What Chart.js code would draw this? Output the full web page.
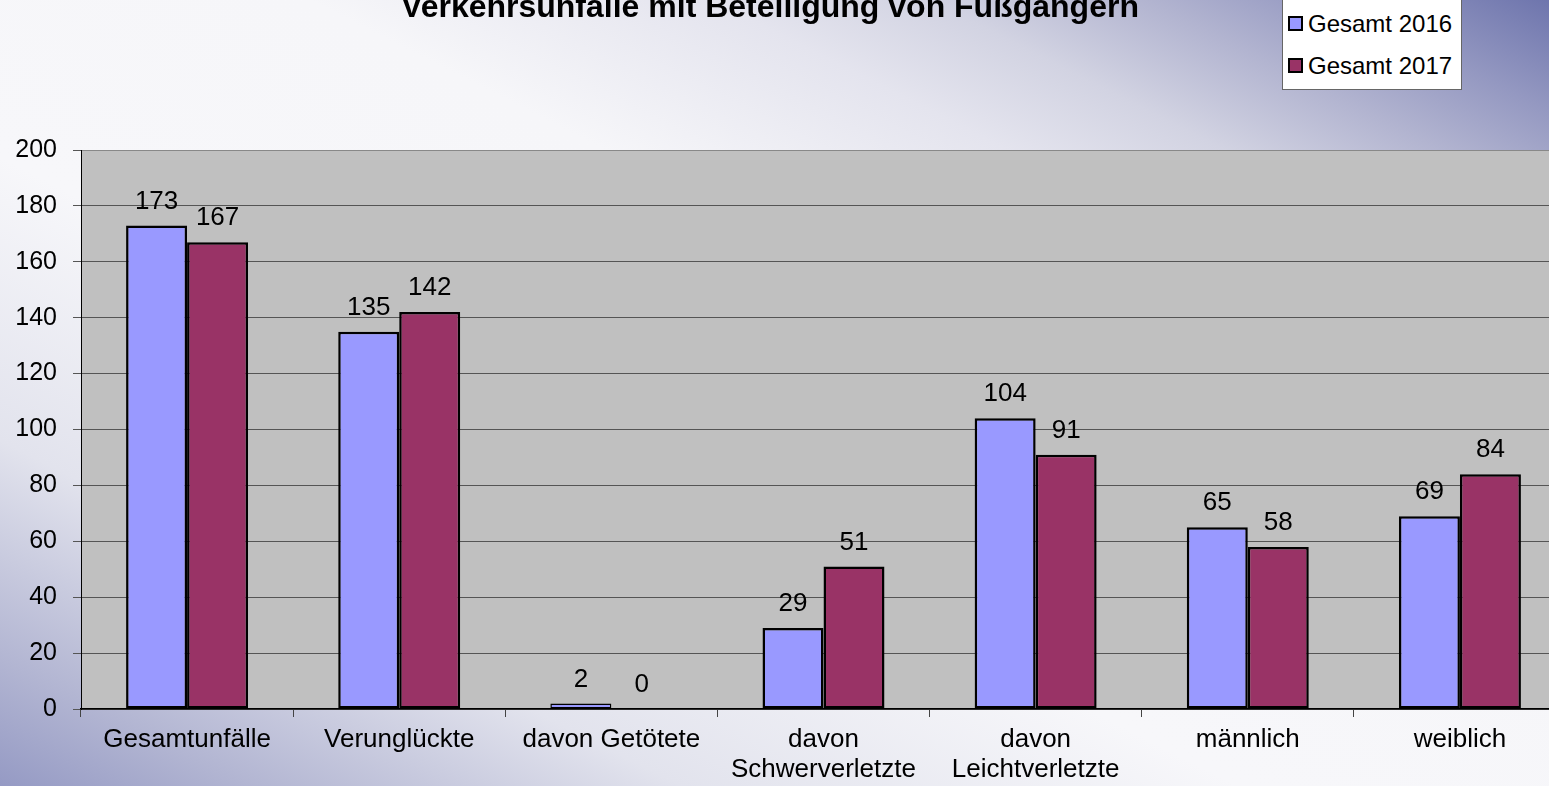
<!DOCTYPE html>
<html><head><meta charset="utf-8">
<script src="https://cdn.jsdelivr.net/npm/chart.js@4.4.0/dist/chart.umd.min.js"></script>
<style>
html,body{margin:0;padding:0;width:1549px;height:786px;overflow:hidden;}
body{position:relative;font-family:'Liberation Sans',Arial,sans-serif;
background:linear-gradient(to top right,#959ac4 0%,#b2b5d2 8%,#e2e3ed 22%,#f7f7fa 40%,#f6f6f9 60%,#e4e4ee 73%,#d2d3e2 80%,#b2b4d0 87%,#9498c1 93%,#6e75ad 100%);}
#wrap{position:absolute;left:0;top:0;width:1566px;height:786px;}
#title{position:absolute;left:0;width:1540px;top:-10px;text-align:center;font-weight:bold;font-size:32px;line-height:32px;color:#000;white-space:nowrap;}
#legendBox{position:absolute;left:1282px;top:-10px;width:180px;height:100px;box-sizing:border-box;background:#fff;border:1px solid #666;}
.sw{position:absolute;width:15px;height:15px;box-sizing:border-box;border:2px solid #000;}
.lt{position:absolute;font-size:24px;line-height:24px;color:#000;white-space:nowrap;}
</style></head>
<body>
<div id="wrap"><canvas id="c" width="1566" height="786"></canvas></div>
<div id="title">Verkehrsunfälle mit Beteiligung von Fußgängern</div>
<div id="legendBox"></div>
<div id="legendItems"></div>
<script>
const chartTitle = 'Verkehrsunfälle mit Beteiligung von Fußgängern';
const categories = ['Gesamtunfälle', 'Verunglückte', 'davon Getötete', ['davon', 'Schwerverletzte'], ['davon', 'Leichtverletzte'], 'männlich', 'weiblich'];
const seriesNames = ['Gesamt 2016', 'Gesamt 2017'];
const values2016 = [173, 135, 2, 29, 104, 65, 69];
const values2017 = [167, 142, 0, 51, 91, 58, 84];
const seriesColors = ['#9999FF', '#993366'];
const yMin = 0, yMax = 200, yStep = 20;

const FONT = "'Liberation Sans', Arial, sans-serif";

document.getElementById('title').textContent = chartTitle;
const legendItems = document.getElementById('legendItems');
const legendTops = [11.5, 54];
seriesNames.forEach((name, i) => {
  const sw = document.createElement('div');
  sw.className = 'sw';
  sw.style.left = '1288px';
  sw.style.top = (legendTops[i] + 4) + 'px';
  sw.style.background = seriesColors[i];
  legendItems.appendChild(sw);
  const t = document.createElement('div');
  t.className = 'lt';
  t.style.left = '1308px';
  t.style.top = legendTops[i] + 'px';
  t.textContent = name;
  legendItems.appendChild(t);
});

const plotBg = {
  id: 'plotBg',
  beforeDraw(chart) {
    const {ctx, chartArea: a} = chart;
    ctx.save();
    ctx.fillStyle = '#C0C0C0';
    ctx.fillRect(a.left, a.top, a.right - a.left, a.bottom - a.top);
    ctx.restore();
  }
};
const valueLabels = {
  id: 'valueLabels',
  afterDatasetsDraw(chart) {
    const ctx = chart.ctx;
    ctx.save();
    ctx.font = '26px ' + FONT;
    ctx.fillStyle = '#000';
    ctx.textAlign = 'center';
    ctx.textBaseline = 'middle';
    chart.data.datasets.forEach((ds, di) => {
      const meta = chart.getDatasetMeta(di);
      meta.data.forEach((bar, i) => {
        ctx.fillText(String(ds.data[i]), bar.x, bar.y - 24);
      });
    });
    ctx.restore();
  }
};

const bw = (c) => (c.raw !== undefined && c.raw < 5) ? 1.5 : 2.5;

new Chart(document.getElementById('c'), {
  type: 'bar',
  data: {
    labels: categories,
    datasets: [
      {label: seriesNames[0], data: values2016, backgroundColor: seriesColors[0], borderColor: '#000', borderWidth: bw, borderSkipped: false},
      {label: seriesNames[1], data: values2017, backgroundColor: seriesColors[1], borderColor: '#000', borderWidth: bw, borderSkipped: false}
    ]
  },
  options: {
    responsive: false,
    animation: false,
    devicePixelRatio: 1,
    layout: {padding: {top: 150, left: 0, right: 0, bottom: 0}},
    datasets: {bar: {categoryPercentage: 0.575, barPercentage: 1}},
    plugins: {legend: {display: false}, title: {display: false}, tooltip: {enabled: false}},
    scales: {
      x: {
        offset: true,
        grid: {display: true, drawOnChartArea: false, drawTicks: true, tickLength: 8, tickColor: '#444', offset: true},
        border: {display: true, color: '#000', width: 1.5},
        ticks: {color: '#000', font: {family: FONT, size: 26, lineHeight: 1.15}, padding: 8, maxRotation: 0, autoSkip: false},
        afterFit(scale) { scale.height = 77; }
      },
      y: {
        min: yMin, max: yMax,
        grid: {color: (c) => (c.tick && c.tick.value === yMax) ? '#888' : '#555', lineWidth: 1, drawTicks: true, tickLength: 8, tickColor: '#555'},
        border: {display: true, color: '#000', width: 1},
        ticks: {stepSize: yStep, color: '#000', font: {family: FONT, size: 25}, padding: 16},
        afterFit(scale) { scale.width = 81; }
      }
    }
  },
  plugins: [plotBg, valueLabels]
});
</script>
</body></html>
